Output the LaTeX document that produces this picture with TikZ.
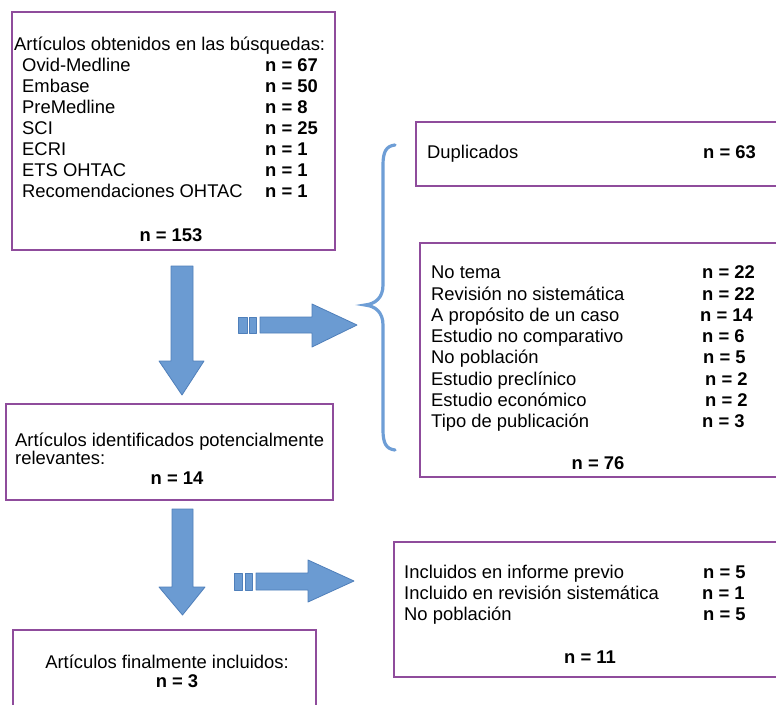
\documentclass[tikz,border=0pt]{standalone}
\usepackage{fontspec}
\setmainfont{Liberation Sans}
\definecolor{boxline}{HTML}{8F4C9C}
\definecolor{arrfill}{HTML}{6B9BD2}
\definecolor{arrline}{HTML}{4F7FBA}
\definecolor{bracecol}{HTML}{6E9ED6}
\newcommand{\myfs}{\fontsize{18.4}{21}\selectfont}
\tikzset{
  box/.style={draw=boxline, line width=1.5pt, rectangle, inner sep=0pt, anchor=north west},
  txt/.style={anchor=base west, inner sep=0pt, font=\myfs},
  ctxt/.style={anchor=base, inner sep=0pt, font=\myfs},
  num/.style={anchor=base west, inner sep=0pt, font=\myfs\bfseries},
  cnum/.style={anchor=base, inner sep=0pt, font=\myfs\bfseries},
  blockarrow/.style={fill=arrfill, draw=arrline, line width=0.8pt, line join=round},
  bracestyle/.style={draw=bracecol, line width=3.2pt, line cap=round}
}
\begin{document}
\begin{tikzpicture}[x=1pt,y=-1pt]
\useasboundingbox (0,0) rectangle (776,704);
\clip (0,0) rectangle (776,704);
\fill[white] (0,0) rectangle (776,704);

% ---- boxes ----
\node[box, minimum width=323pt, minimum height=238pt] (b1) at (11,11) {};
\node[box, minimum width=327pt, minimum height=96pt] (b2) at (5,403) {};
\node[box, minimum width=303pt, minimum height=90pt] (b3) at (12,629) {};
\node[box, minimum width=380pt, minimum height=64pt] (b4) at (415,121) {};
\node[box, minimum width=380pt, minimum height=234pt] (b5) at (419,242) {};
\node[box, minimum width=400pt, minimum height=135pt] (b6) at (393,541) {};

% ---- box 1 text ----
\node[txt] (t1) at (14,50) {Artículos obtenidos en las búsquedas:};
\node[txt] (t1a) at (22,71) {Ovid-Medline};
\node[txt] (t1b) at (22,92) {Embase};
\node[txt] (t1c) at (22,113) {PreMedline};
\node[txt] (t1d) at (22,134) {SCI};
\node[txt] (t1e) at (22,155) {ECRI};
\node[txt] (t1f) at (22,176) {ETS OHTAC};
\node[txt] (t1g) at (22,197) {Recomendaciones OHTAC};
\node[num] (n1a) at (265,71) {n = 67};
\node[num] (n1b) at (265,92) {n = 50};
\node[num] (n1c) at (265,113) {n = 8};
\node[num] (n1d) at (265,134) {n = 25};
\node[num] (n1e) at (265,155) {n = 1};
\node[num] (n1f) at (265,176) {n = 1};
\node[num] (n1g) at (265,197) {n = 1};
\node[cnum] (n1) at (171,241) {n = 153};

% ---- box 2 text ----
\node[txt] (t2) at (15,446) {Artículos identificados potencialmente};
\node[txt] (t2b) at (15,464) {relevantes:};
\node[cnum] (n2) at (177,484) {n = 14};

% ---- box 3 text ----
\node[ctxt] (t3) at (167,668) {Artículos finalmente incluidos:};
\node[cnum] (n3) at (177,687) {n = 3};

% ---- box 4 text ----
\node[txt] (t4) at (427,158) {Duplicados};
\node[num] (n4) at (703,158) {n = 63};

% ---- box 5 text ----
\node[txt] (t5a) at (431,278) {No tema};
\node[txt] (t5b) at (431,300) {Revisión no sistemática};
\node[txt] (t5c) at (431,321) {A propósito de un caso};
\node[txt] (t5d) at (431,342) {Estudio no comparativo};
\node[txt] (t5e) at (431,363) {No población};
\node[txt] (t5f) at (431,385) {Estudio preclínico};
\node[txt] (t5g) at (431,406) {Estudio económico};
\node[txt] (t5h) at (431,427) {Tipo de publicación};
\node[num] (n5a) at (702,278) {n = 22};
\node[num] (n5b) at (702,300) {n = 22};
\node[num] (n5c) at (700,321) {n = 14};
\node[num] (n5d) at (702,342) {n = 6};
\node[num] (n5e) at (703,363) {n = 5};
\node[num] (n5f) at (705,385) {n = 2};
\node[num] (n5g) at (705,406) {n = 2};
\node[num] (n5h) at (702,427) {n = 3};
\node[cnum] (n5) at (598,469) {n = 76};

% ---- box 6 text ----
\node[txt] (t6a) at (404,578) {Incluidos en informe previo};
\node[txt] (t6b) at (404,599) {Incluido en revisión sistemática};
\node[txt] (t6c) at (404,620) {No población};
\node[num] (n6a) at (703,578) {n = 5};
\node[num] (n6b) at (702,599) {n = 1};
\node[num] (n6c) at (703,620) {n = 5};
\node[cnum] (n6) at (590,663) {n = 11};

% ---- block arrows ----
\draw[blockarrow] (171,266) -- (193,266) -- (193,361) -- (204,361) -- (182,395) -- (159,361) -- (171,361) -- cycle;
\draw[blockarrow] (172,509) -- (193,509) -- (193,587) -- (205,587) -- (182.5,615) -- (159,587) -- (172,587) -- cycle;

\draw[blockarrow] (238,317) rectangle (247,333);
\draw[blockarrow] (249,317) rectangle (256,333);
\draw[blockarrow] (260,317) -- (312,317) -- (312,304) -- (357,325) -- (312,347) -- (312,333) -- (260,333) -- cycle;

\draw[blockarrow] (234,573) rectangle (242,590);
\draw[blockarrow] (245,573) rectangle (252,590);
\draw[blockarrow] (256,573) -- (308,573) -- (308,560) -- (354,581) -- (308,602) -- (308,590) -- (256,590) -- cycle;

% ---- brace ----
\draw[bracestyle] (395,145) .. controls (386,146) and (383,152) .. (383,165) -- (383,285)
  .. controls (383,298) and (375,304) .. (365,305)
  .. controls (375,306) and (383,312) .. (383,325) -- (383,430)
  .. controls (383,443) and (386,449) .. (395,450);
\end{tikzpicture}
\end{document}
